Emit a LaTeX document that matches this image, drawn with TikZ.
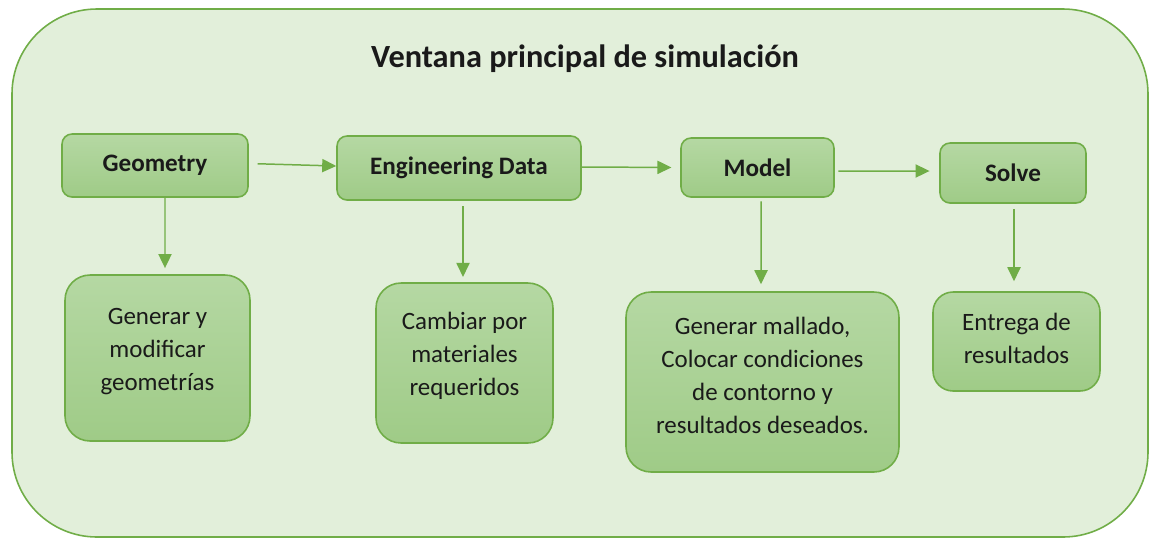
\documentclass[tikz,border=0pt]{standalone}
\usepackage{fontspec}
\setmainfont{Carlito}
\usetikzlibrary{arrows.meta,calc}
\definecolor{outerfill}{HTML}{E2EFDA}
\definecolor{greenline}{HTML}{70AD47}
\definecolor{boxtop}{HTML}{B5D8A3}
\definecolor{boxbot}{HTML}{9FCB87}
\definecolor{txt}{HTML}{1A1A1A}
\newcommand{\lowpad}[1]{\rule[-#1]{0pt}{0pt}}
\tikzset{
  outerbox/.style={draw=greenline, line width=0.9pt, fill=outerfill, rounded corners=1.7cm},
  box/.style={draw=greenline, line width=0.9pt, top color=boxtop, bottom color=boxbot,
    text=txt, align=center, inner sep=0pt},
  headbox/.style={box, rounded corners=0.2cm, font=\fontsize{14.3}{17}\selectfont\bfseries},
  bodybox/.style={box, rounded corners=0.5cm, font=\fontsize{14.2}{18.8}\selectfont},
  arr/.style={draw=greenline, line width=0.85pt, -{Triangle[length=8pt,width=7.5pt]}},
}
\begin{document}
\begin{tikzpicture}[x=0.02cm,y=-0.02cm]
\useasboundingbox (0,0) rectangle (1150,539);
\draw[outerbox] (12,9) rectangle (1148,537);
\node[text=txt, font=\fontsize{18.4}{22}\selectfont\bfseries] (title) at (585,59) {Ventana principal de simulación};

\node[headbox, minimum width=3.72cm, minimum height=1.26cm] (geo) at (155,165.5) {Geometry};
\node[headbox, minimum width=4.88cm, minimum height=1.28cm] (eng) at (459,168) {Engineering Data};
\node[headbox, minimum width=3.06cm, minimum height=1.18cm] (mod) at (757.5,167.5) {Model};
\node[headbox, minimum width=2.92cm, minimum height=1.20cm] (sol) at (1013,173) {Solve};

\node[bodybox, minimum width=3.70cm, minimum height=3.32cm] (gen) at (157.5,358) {Generar y\\modificar\\geometrías\lowpad{10pt}};
\node[bodybox, minimum width=3.54cm, minimum height=3.20cm] (cam) at (464.5,363) {Cambiar por\\materiales\\requeridos\lowpad{10pt}};
\node[bodybox, minimum width=5.46cm, minimum height=3.60cm] (mal) at (762.5,382) {Generar mallado,\\Colocar condiciones\\de contorno y\\resultados deseados.\lowpad{7.5pt}};
\node[bodybox, rounded corners=0.4cm, minimum width=3.34cm, minimum height=1.98cm] (ent) at (1016.5,341.5) {Entrega de\\resultados\lowpad{4pt}};

\draw[arr, shorten <=5pt] ($(geo.east)+(0,-2)$) -- ($(eng.west)+(0,-2)$);
\draw[arr, shorten >=5pt] ($(eng.east)+(0,-1)$) -- (mod.west);
\draw[arr, shorten <=2pt, shorten >=5.5pt] ($(mod.east)+(0,3.5)$) -- ($(sol.west)+(0,-2)$);

\draw[arr, shorten >=3.5pt] ($(geo.south)+(10,0)$) -- ($(gen.north)+(7.5,0)$);
\draw[arr, shorten <=3pt, shorten >=3pt] ($(eng.south)+(4,0)$) -- ($(cam.north)+(-1.5,0)$);
\draw[arr, shorten <=2pt, shorten >=4pt] ($(mod.south)+(3.5,0)$) -- ($(mal.north)+(-1.5,0)$);
\draw[arr, shorten <=3pt, shorten >=5.7pt] ($(sol.south)+(1,0)$) -- ($(ent.north)+(-2.5,0)$);
\end{tikzpicture}
\end{document}
